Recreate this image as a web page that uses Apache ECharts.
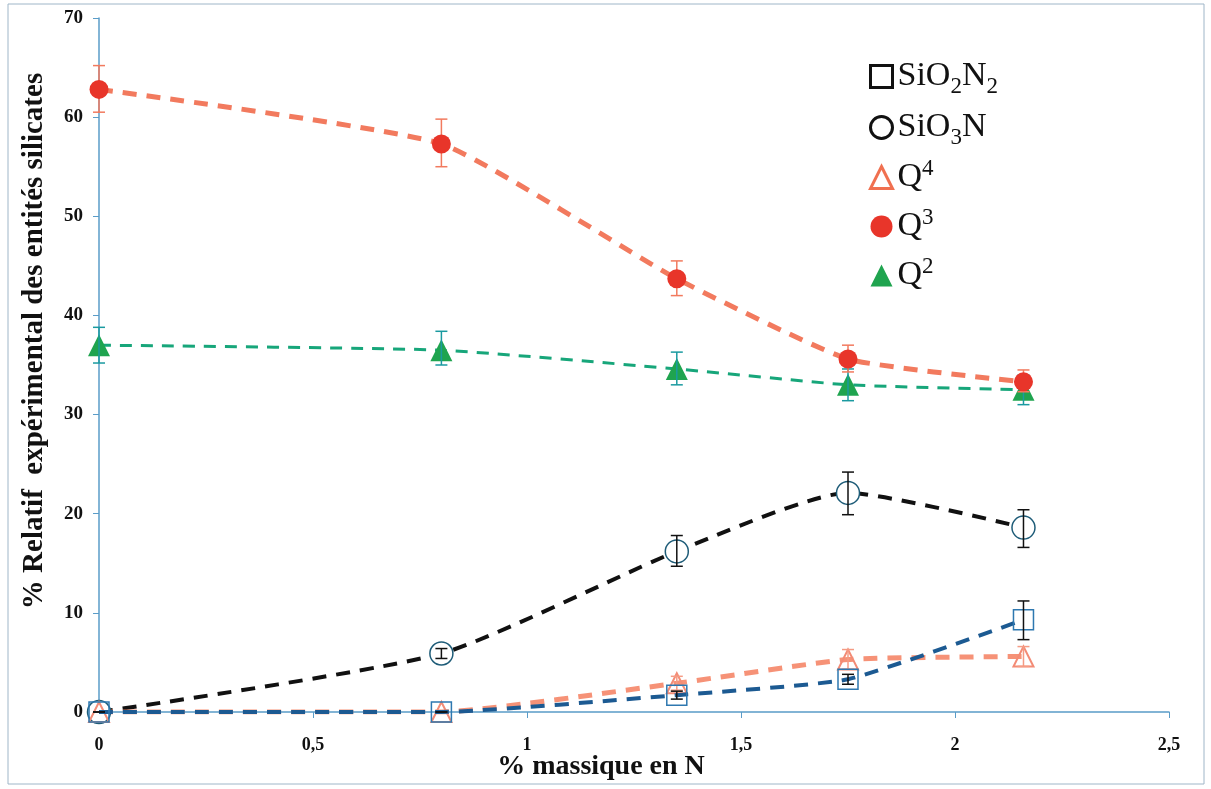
<!DOCTYPE html>
<html><head><meta charset="utf-8">
<script src="https://cdn.jsdelivr.net/npm/echarts@6/dist/echarts.min.js"></script>
<style>html,body{margin:0;padding:0;background:#fff}#c{width:1211px;height:789px}</style>
</head><body><div id="c"></div>
<script>
const xN = [0, 0.8, 1.35, 1.75, 2.16];
const sio2n2 = [0, 0, 1.7, 3.3, 9.3];
const sio2n2Lo = [0, 0, 1.3, 2.8, 7.3];
const sio2n2Hi = [0, 0, 2.1, 3.8, 11.2];
const sio3n = [0, 5.9, 16.2, 22.1, 18.6];
const sio3nLo = [0, 5.4, 14.7, 19.9, 16.6];
const sio3nHi = [0, 6.4, 17.8, 24.2, 20.4];
const q4 = [0, 0, 2.9, 5.3, 5.6];
const q4Lo = [0, 0, 2.2, 4.3, 4.6];
const q4Hi = [0, 0, 3.6, 6.3, 6.6];
const q3 = [62.8, 57.3, 43.7, 35.6, 33.3];
const q3Lo = [60.5, 55.0, 42.0, 34.3, 32.3];
const q3Hi = [65.2, 59.8, 45.5, 37.0, 34.5];
const q2 = [37.0, 36.5, 34.6, 33.0, 32.5];
const q2Lo = [35.2, 35.0, 33.0, 31.4, 31.0];
const q2Hi = [38.8, 38.4, 36.3, 34.6, 34.0];
const yTicks = [0, 10, 20, 30, 40, 50, 60, 70];
const xTicks = [0, 0.5, 1, 1.5, 2, 2.5];

const pts = (ys) => xN.map((x, i) => [x, ys[i]]);
const errData = (lo, hi) => xN.map((x, i) => [x, lo[i], hi[i]]);

function errSeries(name, lo, hi, color, z) {
  return {
    type: 'custom', name: name + '_err', z: z, silent: true,
    data: errData(lo, hi),
    renderItem: function (params, api) {
      const a = api.coord([api.value(0), api.value(1)]);
      const b = api.coord([api.value(0), api.value(2)]);
      const w = 6;
      const st = { stroke: color, lineWidth: 1.5 };
      return { type: 'group', children: [
        { type: 'line', shape: { x1: a[0], y1: a[1], x2: b[0], y2: b[1] }, style: st },
        { type: 'line', shape: { x1: a[0] - w, y1: a[1], x2: a[0] + w, y2: a[1] }, style: st },
        { type: 'line', shape: { x1: b[0] - w, y1: b[1], x2: b[0] + w, y2: b[1] }, style: st }
      ]};
    }
  };
}

const chart = echarts.init(document.getElementById('c'));
const serif = '"Liberation Serif", "DejaVu Serif", serif';
const rich = {
  t: { fontFamily: serif, fontSize: 34, color: '#111', lineHeight: 40, verticalAlign: 'middle' },
  sub: { fontFamily: serif, fontSize: 23, color: '#111', lineHeight: 40, padding: [20, 0, 0, 0], verticalAlign: 'middle' },
  sup: { fontFamily: serif, fontSize: 23, color: '#111', lineHeight: 40, padding: [0, 0, 18, 0], verticalAlign: 'middle' }
};
const labelMap = {
  'SiO2N2': '{t|SiO}{sub|2}{t|N}{sub|2}',
  'SiO3N': '{t|SiO}{sub|3}{t|N}',
  'Q4': '{t|Q}{sup|4}',
  'Q3': '{t|Q}{sup|3}',
  'Q2': '{t|Q}{sup|2}'
};

chart.setOption({
  animation: false,
  backgroundColor: '#fff',
  graphic: [{ type: 'rect', shape: { x: 8, y: 4, width: 1196, height: 780 }, style: { fill: 'none', stroke: '#9fb6c8', lineWidth: 1 }, silent: true }],
  grid: { left: 99, right: 42, top: 18, bottom: 77, outerBoundsMode: 'none', containLabel: false },
  legend: {
    orient: 'vertical', left: 864, top: 50, itemGap: 8, itemWidth: 22, itemHeight: 22,
    formatter: (n) => labelMap[n],
    textStyle: { rich: rich },
    data: [
      { name: 'SiO2N2', icon: 'rect', itemStyle: { color: '#fff', borderColor: '#111', borderWidth: 3 } },
      { name: 'SiO3N', icon: 'circle', itemStyle: { color: '#fff', borderColor: '#111', borderWidth: 3 } },
      { name: 'Q4', icon: 'triangle', itemStyle: { color: '#fff', borderColor: '#f07050', borderWidth: 3 } },
      { name: 'Q3', icon: 'circle', itemStyle: { color: '#e8352a', borderWidth: 0 } },
      { name: 'Q2', icon: 'triangle', itemStyle: { color: '#1fa44f', borderWidth: 0 } }
    ]
  },
  xAxis: {
    type: 'value', min: 0, max: 2.5, interval: 0.5,
    name: '% massique en N', nameLocation: 'middle', nameGap: 41, nameMoveOverlap: false,
    nameTextStyle: { fontFamily: serif, fontWeight: 'bold', fontSize: 28, color: '#111', padding: [0, 66, 0, 0] },
    axisLine: { lineStyle: { color: '#5a9cc8', width: 1.5 } },
    axisTick: { show: true, length: 6, lineStyle: { color: '#5a9cc8' } },
    splitLine: { show: false },
    axisLabel: { fontFamily: serif, fontWeight: 'bold', fontSize: 18, color: '#111', margin: 24,
      formatter: (v) => String(v).replace('.', ',') }
  },
  yAxis: {
    type: 'value', min: 0, max: 70, interval: 10,
    name: '% Relatif  expérimental des entités silicates', nameLocation: 'middle', nameGap: 50,
    nameTextStyle: { fontFamily: serif, fontWeight: 'bold', fontSize: 29, color: '#111', padding: [0, 0, 0, 48] },
    axisLine: { show: true, lineStyle: { color: '#5a9cc8', width: 1.5 } },
    axisTick: { show: true, length: 6, lineStyle: { color: '#5a9cc8' } },
    splitLine: { show: false },
    axisLabel: { fontFamily: serif, fontWeight: 'bold', fontSize: 19, color: '#111', margin: 16 }
  },
  series: [
    { name: 'Q2', type: 'line', z: 3, data: pts(q2), smooth: 0.15, symbol: 'triangle', symbolSize: 22,
      itemStyle: { color: '#1fa44f' }, lineStyle: { color: '#17a67a', width: 3, type: [12, 9] } },
    errSeries('Q2', q2Lo, q2Hi, '#1a9aa0', 4),
    { name: 'SiO3N', type: 'line', z: 5, data: pts(sio3n), smooth: 0.2, symbol: 'circle', symbolSize: 23,
      itemStyle: { color: '#fff', borderColor: '#1e5c78', borderWidth: 1.5, opacity: 1 },
      lineStyle: { color: '#111', width: 4, type: [14, 10] } },
    errSeries('SiO3N', sio3nLo, sio3nHi, '#111', 6),
    { name: 'Q4', type: 'line', z: 5, data: pts(q4), smooth: 0.15, symbol: 'triangle', symbolSize: 20,
      itemStyle: { color: 'rgba(255,255,255,0)', borderColor: '#f38c76', borderWidth: 2 },
      lineStyle: { color: '#f47f5f', width: 5, type: [14, 10], opacity: 0.85 } },
    errSeries('Q4', q4Lo, q4Hi, '#f59b84', 6),
    { name: 'SiO2N2', type: 'line', z: 6, data: pts(sio2n2), smooth: 0.15, symbol: 'rect', symbolSize: 20,
      itemStyle: { color: 'rgba(255,255,255,0)', borderColor: '#2e78b0', borderWidth: 1.5 },
      lineStyle: { color: '#1c5a92', width: 4, type: [14, 10] } },
    errSeries('SiO2N2', sio2n2Lo, sio2n2Hi, '#111', 7),
    { name: 'Q3', type: 'line', z: 8, data: pts(q3), smooth: 0.15, symbol: 'circle', symbolSize: 19,
      itemStyle: { color: '#e8352a' }, lineStyle: { color: '#f27a5e', width: 5, type: [14, 10] } },
    errSeries('Q3', q3Lo, q3Hi, '#f27a5e', 8)
  ]
});
</script></body></html>
